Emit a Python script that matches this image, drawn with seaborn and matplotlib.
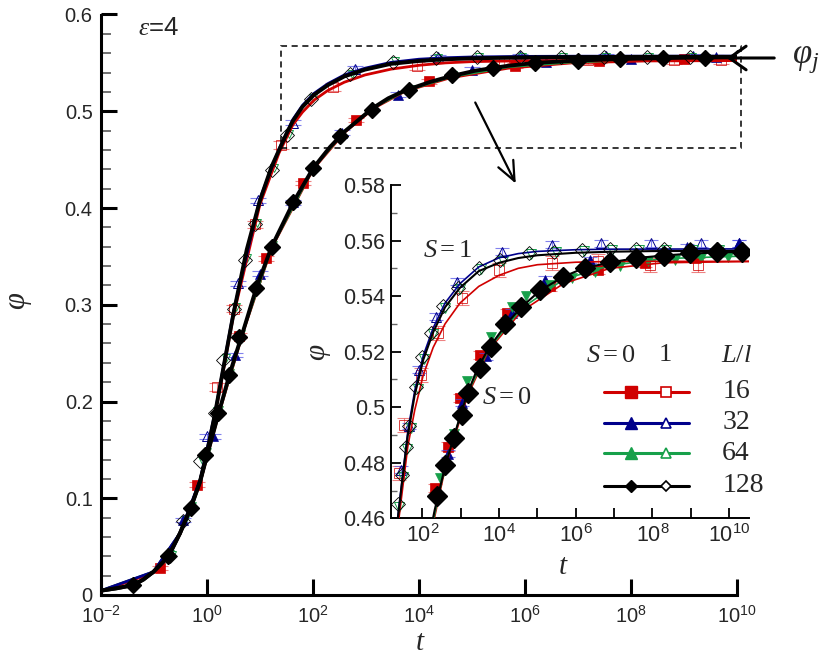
import numpy as np
import matplotlib
matplotlib.use("Agg")
import matplotlib.pyplot as plt
import matplotlib.ticker as mticker
from matplotlib.patches import Rectangle, FancyArrowPatch
import seaborn as sns

# ---------------- data (log10 t, phi) ----------------
# fitted curves
line0_logt = [-2.0, -1.7, -1.39, -1.2, -1.01, -0.73, -0.51, -0.31, -0.13, 0.0, 0.2, 0.43, 0.7, 0.94, 1.22,
              1.63, 2.0, 2.32, 2.6, 2.81, 2.98, 3.16, 3.42, 3.73, 4.21, 4.58, 5.07, 5.68, 6.2, 6.89, 7.58,
              8.29, 8.99, 9.68, 10.6]
line0_phi = [0.0045, 0.007, 0.0103, 0.016, 0.024, 0.0396, 0.0638, 0.0896, 0.117, 0.144, 0.184, 0.229, 0.276,
             0.319, 0.360, 0.406, 0.441, 0.463, 0.4792, 0.4888, 0.4966, 0.5044, 0.5134, 0.5213, 0.5303, 0.536,
             0.542, 0.547, 0.5500, 0.5521, 0.5537, 0.5546, 0.5553, 0.5557, 0.556]
line1_logt = [-2.0, -1.7, -1.39, -1.2, -1.01, -0.73, -0.51, -0.31, -0.13, 0.0, 0.15, 0.3, 0.5, 0.75, 1.0, 1.22,
              1.36, 1.49, 1.62, 1.80, 2.02, 2.28, 2.59, 2.98, 3.47, 4.0, 4.5, 5.0, 6.0, 7.0, 8.0, 10.6]
line1_phi = [0.0045, 0.007, 0.0103, 0.016, 0.024, 0.0396, 0.0638, 0.0896, 0.118, 0.147, 0.187, 0.232, 0.291,
             0.357, 0.408, 0.443, 0.460, 0.4756, 0.490, 0.5045, 0.517, 0.527, 0.536, 0.543, 0.549, 0.552,
             0.5537, 0.5547, 0.5556, 0.556, 0.5562, 0.5563]
red1_line_logt = [-2.0, -1.01, -0.51, -0.13, 0.15, 0.5, 1.0, 1.36, 1.62, 1.80, 2.02, 2.28, 2.59, 2.98, 3.47,
                  4.0, 4.5, 5.0, 6.0, 7.0, 10.6]
red1_line_phi = [0.004, 0.023, 0.063, 0.117, 0.185, 0.289, 0.404, 0.457, 0.486, 0.499, 0.5115, 0.5215, 0.5300,
                 0.5375, 0.5435, 0.5475, 0.5500, 0.5513, 0.5522, 0.5525, 0.5525]
blue1_line_logt = [-2.0, -1.01, -0.51, -0.13, 0.15, 0.5, 1.0, 1.36, 1.62, 1.80, 2.02, 2.28, 2.59, 2.98, 3.47,
                   4.0, 4.5, 5.0, 6.0, 7.0, 10.6]
blue1_line_phi = [0.0045, 0.024, 0.064, 0.119, 0.188, 0.293, 0.410, 0.461, 0.4915, 0.506, 0.5185, 0.5285,
                  0.5375, 0.5445, 0.5505, 0.5538, 0.5553, 0.5561, 0.5567, 0.5569, 0.557]
red0_line_logt = [-2.0, -1.01, -0.51, -0.13, 0.2, 0.7, 1.22, 2.0, 2.6, 3.16, 3.73, 4.58, 5.68, 6.89, 8.29, 10.6]
red0_line_phi = [0.0042, 0.0235, 0.0632, 0.116, 0.183, 0.275, 0.359, 0.440, 0.4785, 0.5036, 0.5205, 0.5345,
                 0.5445, 0.5500, 0.5520, 0.5525]
green0_line_logt = [-2.0, -1.01, -0.51, -0.13, 0.2, 0.7, 1.22, 2.0, 2.6, 3.16, 3.73, 4.58, 5.68, 6.89, 8.29, 10.6]
green0_line_phi = [0.0044, 0.0238, 0.0636, 0.117, 0.184, 0.276, 0.360, 0.441, 0.4795, 0.5045, 0.5210, 0.5355,
                   0.5460, 0.5510, 0.5535, 0.5545]

# main panel, S=0 (filled)
m0_128_logt = [-1.39, -0.73, -0.31, -0.04, 0.21, 0.42, 0.61, 0.92, 1.22, 1.63, 2.00, 2.50, 3.12, 3.82, 4.62,
               5.40, 6.19, 7.00, 7.79, 8.60, 9.40]
m0_128_phi = [0.010, 0.040, 0.090, 0.145, 0.188, 0.227, 0.267, 0.317, 0.360, 0.406, 0.441, 0.474, 0.501, 0.522,
              0.537, 0.545, 0.550, 0.552, 0.554, 0.555, 0.5555]
m0_64_logt = [-1.32, -0.68, -0.27, 0.02, 0.25, 0.46, 0.66, 0.96, 1.26, 1.67, 2.04, 2.54, 3.16, 3.86, 4.66,
              5.44, 6.23, 7.04, 7.83, 8.64, 9.44]
m0_64_phi = [0.012, 0.043, 0.093, 0.149, 0.192, 0.231, 0.271, 0.321, 0.363, 0.409, 0.443, 0.476, 0.503, 0.524,
             0.538, 0.546, 0.551, 0.553, 0.5545, 0.5552, 0.5556]
m0_16_logt = [-0.89, -0.195, 0.61, 1.11, 1.82, 2.81, 4.19, 5.81, 7.40, 9.00]
m0_16_phi = [0.028, 0.114, 0.268, 0.348, 0.426, 0.491, 0.531, 0.547, 0.552, 0.554]
m0_32_logt = [-0.45, 0.12, 0.52, 1.00, 1.63, 2.55, 3.60, 5.00, 6.40, 8.00, 9.60]
m0_32_phi = [0.0775, 0.164, 0.248, 0.332, 0.406, 0.478, 0.517, 0.543, 0.551, 0.554, 0.5556]

# main panel, S=1 (open)
m1_128_logt = [-0.70, -0.46, -0.13, 0.15, 0.31, 0.50, 0.72, 0.91, 1.22, 1.51, 1.96, 2.70, 3.51, 4.32, 5.09,
               5.91, 6.68, 7.49, 8.30, 9.11, 10.0]
m1_128_phi = [0.040, 0.077, 0.138, 0.188, 0.243, 0.296, 0.346, 0.383, 0.439, 0.475, 0.513, 0.538, 0.551, 0.555,
              0.5556, 0.556, 0.556, 0.556, 0.556, 0.556, 0.556]
m1_64_logt = [-0.66, -0.42, -0.09, 0.19, 0.35, 0.54, 0.76, 0.95, 1.26, 1.55, 2.00, 2.74, 3.55, 4.36, 5.13,
              5.95, 6.72, 7.53, 8.34, 9.15]
m1_64_phi = [0.041, 0.078, 0.140, 0.190, 0.245, 0.298, 0.348, 0.385, 0.441, 0.476, 0.514, 0.539, 0.5515, 0.5552,
             0.5557, 0.556, 0.556, 0.556, 0.556, 0.556]
m1_16_logt = [0.18, 0.50, 0.906, 1.40, 2.38, 3.96, 5.60, 7.19, 8.81, 9.70]
m1_16_phi = [0.215, 0.296, 0.383, 0.465, 0.525, 0.547, 0.551, 0.5525, 0.5525, 0.5525]
m1_32_logt = [0.00, 0.59, 0.96, 1.63, 2.79, 4.36, 5.90, 7.53, 9.17]
m1_32_phi = [0.164, 0.322, 0.408, 0.488, 0.544, 0.556, 0.557, 0.557, 0.557]

# inset, S=0 (filled)
i0_128_logt = [2.39, 2.60, 2.82, 3.02, 3.19, 3.51, 3.80, 4.16, 4.58, 5.07, 5.68, 6.25, 6.89, 7.58, 8.29, 8.99,
               9.68, 10.35]
i0_128_phi = [0.4679, 0.4793, 0.4889, 0.4973, 0.5051, 0.5141, 0.5218, 0.5300, 0.5362, 0.5422, 0.5468, 0.5500,
              0.5521, 0.5537, 0.5546, 0.5555, 0.5557, 0.5560]
i0_16_logt = [2.32, 2.67, 2.98, 3.50, 4.21, 5.33, 6.59, 7.80, 9.10]
i0_16_phi = [0.4708, 0.4858, 0.5032, 0.5189, 0.5339, 0.5435, 0.5495, 0.5519, 0.5537]
i0_32_logt = [2.67, 3.04, 3.67, 4.34, 5.20, 6.37, 8.90, 10.27]
i0_32_phi = [0.4833, 0.5016, 0.5183, 0.5340, 0.5459, 0.5530, 0.5575, 0.5590]
i0_64_logt = [2.45, 2.82, 3.17, 3.78, 4.34, 4.71, 5.32, 5.90, 6.50, 7.15, 7.89, 8.58, 9.27, 9.96]
i0_64_phi = [0.4745, 0.4905, 0.5093, 0.5254, 0.5362, 0.5400, 0.5440, 0.5465, 0.5485, 0.5507, 0.5525, 0.5531,
             0.5537, 0.5540]

# inset, S=1 (open)
i1_128_logt = [1.36, 1.48, 1.57, 1.66, 1.84, 1.99, 2.22, 2.53, 2.92, 3.47, 4.03, 4.77, 5.42, 6.16, 6.89, 7.58,
               8.29, 8.99, 9.68, 10.35]
i1_128_phi = [0.4652, 0.4757, 0.4855, 0.4933, 0.5074, 0.5182, 0.5267, 0.5363, 0.5429, 0.5501, 0.5531, 0.5555,
              0.5560, 0.5567, 0.5570, 0.5570, 0.5570, 0.5570, 0.5570, 0.5570]
i1_16_logt = [1.39, 1.53, 1.97, 2.41, 3.02, 3.99, 5.37, 6.59, 7.93, 9.19]
i1_16_phi = [0.4763, 0.4936, 0.5117, 0.5267, 0.5393, 0.5495, 0.5519, 0.5525, 0.5513, 0.5513]
i1_32_logt = [1.44, 1.66, 1.91, 2.35, 2.91, 4.08, 5.37, 6.67, 7.97, 9.27, 10.25]
i1_32_phi = [0.4775, 0.4932, 0.5135, 0.5326, 0.5452, 0.5560, 0.5585, 0.5590, 0.5590, 0.5590, 0.5590]
i1_64_logt = [1.38, 1.50, 1.60, 1.70, 1.88, 2.03, 2.27, 2.58, 2.97, 3.52, 4.10, 4.83, 5.48, 6.22, 6.95, 7.65,
              8.35, 9.05, 9.75]
i1_64_phi = [0.4640, 0.4750, 0.4850, 0.4925, 0.5065, 0.5175, 0.5262, 0.5356, 0.5425, 0.5497, 0.5528, 0.5552,
             0.5558, 0.5563, 0.5566, 0.5566, 0.5566, 0.5566, 0.5566]

# error-bar half widths
err_16 = 0.0025
err_32 = 0.0012
err_16_main = 0.004
err_32_main = 0.0025

legend_sizes = ["16", "32", "64", "128"]
main_xticks_exp = [-2, 0, 2, 4, 6, 8, 10]
inset_xticks_exp = [2, 4, 6, 8, 10]

# ---------------- style ----------------
sns.set_theme(style="ticks")
plt.rcParams["font.family"] = ["Liberation Sans", "DejaVu Sans"]
plt.rcParams["mathtext.fontset"] = "custom"
plt.rcParams["mathtext.rm"] = "Liberation Serif"
plt.rcParams["mathtext.it"] = "Liberation Serif:italic"
plt.rcParams["mathtext.sf"] = "Liberation Sans"
plt.rcParams["mathtext.default"] = "regular"

RED = "#d00000"
BLUE = "#00008b"
GREEN = "#17a04a"
RED_E = (0.9, 0.3, 0.3, 0.7)
BLUE_E = (0.3, 0.3, 0.9, 0.7)

W, H = 831, 659
fig = plt.figure(figsize=(W / 100, H / 100), dpi=100)
fig.patch.set_facecolor("white")


def fx(px):
    return px / W


def fy(py):
    return 1 - py / H


def T(a):
    return 10 ** np.asarray(a, dtype=float)


ax = fig.add_axes([fx(101), fy(595), 636 / W, 580.5 / H])
ins = fig.add_axes([fx(391), fy(518.3), 358 / W, 333.3 / H])
ins.set_zorder(ax.get_zorder() + 1)


def draw_all(a, main):
    a.set_xscale("log")
    lwb = 2.8 if main else 1.5
    lwc = 2.0 if main else 1.2
    # colored fit lines
    sns.lineplot(x=T(red0_line_logt), y=red0_line_phi, ax=a, color=RED, lw=lwc, sort=False, estimator=None, zorder=3)
    sns.lineplot(x=T(green0_line_logt), y=green0_line_phi, ax=a, color=GREEN, lw=lwc, sort=False, estimator=None, zorder=3)
    sns.lineplot(x=T(red1_line_logt), y=red1_line_phi, ax=a, color=RED, lw=lwc, sort=False, estimator=None, zorder=3)
    sns.lineplot(x=T(blue1_line_logt), y=blue1_line_phi, ax=a, color=BLUE, lw=lwc, sort=False, estimator=None, zorder=3)
    if main:
        d0 = (m0_128_logt, m0_128_phi, m0_64_logt, m0_64_phi, m0_16_logt, m0_16_phi, m0_32_logt, m0_32_phi)
        d1 = (m1_128_logt, m1_128_phi, m1_64_logt, m1_64_phi, m1_16_logt, m1_16_phi, m1_32_logt, m1_32_phi)
        msD, msd, mss, mst, msg = 7.8, 7.2, 7.8, 7.5, 4.5
        e16, e32, cap = err_16_main, err_32_main, 6
    else:
        d0 = (i0_128_logt, i0_128_phi, i0_64_logt, i0_64_phi, i0_16_logt, i0_16_phi, i0_32_logt, i0_32_phi)
        d1 = (i1_128_logt, i1_128_phi, i1_64_logt, i1_64_phi, i1_16_logt, i1_16_phi, i1_32_logt, i1_32_phi)
        msD, msd, mss, mst, msg = 10.0, 7.5, 7.5, 7.5, 7.0
        e16, e32, cap = err_16, err_32, 5
    # --- S=1 open markers
    a.errorbar(T(d1[4]), d1[5], yerr=e16, fmt="none", ecolor=RED_E, capsize=cap, elinewidth=0.8, capthick=0.8, zorder=2)
    a.plot(T(d1[4]), d1[5], ls="none", marker="s", ms=mss, mfc="none", mec=RED, mew=0.7, alpha=0.75, zorder=2)
    a.errorbar(T(d1[6]), d1[7], yerr=e32, fmt="none", ecolor=BLUE_E, capsize=cap, elinewidth=0.8, capthick=0.8, zorder=2)
    a.plot(T(d1[6]), d1[7], ls="none", marker="^", ms=mst, mfc="none", mec=BLUE, mew=0.7, zorder=2)
    a.plot(T(d1[2]), d1[3], ls="none", marker="v", ms=msd - 1, mfc="none", mec=GREEN, mew=0.7, zorder=2)
    a.plot(T(d1[0]), d1[1], ls="none", marker="D", ms=msd, mfc="none", mec="black", mew=0.6, zorder=3)
    # --- S=0 filled markers
    a.errorbar(T(d0[4]), d0[5], yerr=e16 * 0.6, fmt="none", ecolor=RED_E, capsize=cap, elinewidth=0.8, capthick=0.8, zorder=2)
    a.plot(T(d0[4]), d0[5], ls="none", marker="s", ms=mss, mfc=RED, mec=RED, mew=0.5, zorder=2)
    a.errorbar(T(d0[6]), d0[7], yerr=e32, fmt="none", ecolor=BLUE_E, capsize=cap, elinewidth=0.8, capthick=0.8, zorder=2)
    a.plot(T(d0[6]), d0[7], ls="none", marker="^", ms=mst, mfc=BLUE, mec=BLUE, mew=0.5, zorder=2)
    a.plot(T(d0[2]), d0[3], ls="none", marker="v", ms=msg, mfc=GREEN, mec=GREEN, mew=0.5, zorder=2)
    # black fits
    sns.lineplot(x=T(line1_logt), y=line1_phi, ax=a, color="black", lw=lwb, sort=False, estimator=None, zorder=4)
    sns.lineplot(x=T(line0_logt), y=line0_phi, ax=a, color="black", lw=lwb, sort=False, estimator=None, zorder=4)
    a.plot(T(d0[0]), d0[1], ls="none", marker="D", ms=msD, mfc="black", mec="black", zorder=5)


draw_all(ax, True)
draw_all(ins, False)

# ---------------- main axes formatting ----------------
ax.set_xlim(1e-2, 1e10)
ax.set_ylim(0, 0.6)
for sp in ["top", "right"]:
    ax.spines[sp].set_visible(False)
for sp in ["left", "bottom"]:
    ax.spines[sp].set_linewidth(2.2)
    ax.spines[sp].set_color("black")
ax.xaxis.set_major_locator(mticker.FixedLocator([10.0 ** e for e in main_xticks_exp]))
ax.xaxis.set_minor_locator(mticker.NullLocator())
ax.xaxis.set_major_formatter(mticker.FuncFormatter(lambda v, p: r"$\mathdefault{10^{%d}}$" % round(np.log10(v))))
ax.yaxis.set_major_locator(mticker.MultipleLocator(0.1))
ax.yaxis.set_minor_locator(mticker.MultipleLocator(0.02))
ax.yaxis.set_major_formatter(mticker.FuncFormatter(lambda v, p: "%g" % round(v, 3)))
ax.tick_params(axis="both", which="major", direction="in", length=11.5, width=2.2, labelsize=14.5, pad=6, color="black")
ax.tick_params(axis="x", which="major", pad=7)
ax.tick_params(axis="y", which="minor", direction="in", length=7, width=1.3, color="#666666")
ax.set_xlabel("t", fontfamily="Liberation Serif", fontstyle="italic", fontsize=21)
ax.xaxis.label.set_va("center")
ax.xaxis.set_label_coords(0.5016, -0.082)
ax.set_ylabel("φ", fontfamily="Liberation Serif", fontstyle="italic", fontsize=22, rotation=90)
ax.yaxis.label.set_va("center")
ax.yaxis.set_label_coords(-0.132, 0.508)
ax.grid(False)
ax.text(0.058, 0.977, r"$\mathit{ε}$=4", transform=ax.transAxes, ha="left", va="center", fontsize=18.5)

# dashed zoom box
ax.add_patch(Rectangle((10 ** 1.40, 0.4618), 10 ** 10.08 - 10 ** 1.40, 0.5674 - 0.4618, fill=False,
                       ls=(0, (4, 3)), lw=1.1, ec="black", clip_on=False, zorder=6))

# ---------------- inset formatting ----------------
ins.set_facecolor("white")
ins.set_xlim(10 ** 1.18, 10 ** 10.52)
ins.set_ylim(0.46, 0.58)
for sp in ["top", "right"]:
    ins.spines[sp].set_visible(False)
for sp in ["left", "bottom"]:
    ins.spines[sp].set_linewidth(1.4)
    ins.spines[sp].set_color("black")
ins.xaxis.set_major_locator(mticker.FixedLocator([10.0 ** e for e in inset_xticks_exp]))
ins.xaxis.set_minor_locator(mticker.FixedLocator([10.0 ** e for e in range(2, 11)]))
ins.xaxis.set_minor_formatter(mticker.NullFormatter())
ins.xaxis.set_major_formatter(mticker.FuncFormatter(lambda v, p: r"$\mathdefault{10^{%d}}$" % round(np.log10(v))))
ins.yaxis.set_major_locator(mticker.MultipleLocator(0.02))
ins.yaxis.set_minor_locator(mticker.MultipleLocator(0.01))
ins.yaxis.set_major_formatter(mticker.FuncFormatter(lambda v, p: "%g" % round(v, 3)))
ins.tick_params(axis="both", which="major", direction="in", length=7, width=1.3, labelsize=15.5, pad=4, color="black")
ins.tick_params(axis="x", which="minor", direction="in", length=7, width=1.3, color="black")
ins.tick_params(axis="y", which="minor", direction="in", length=4, width=1.0, color="#666666")
ins.set_xlabel("t", fontfamily="Liberation Serif", fontstyle="italic", fontsize=21)
ins.xaxis.label.set_va("center")
ins.xaxis.set_label_coords(0.480, -0.146)
ins.set_ylabel("φ", fontfamily="Liberation Serif", fontstyle="italic", fontsize=21, rotation=90)
ins.yaxis.label.set_va("center")
ins.yaxis.set_label_coords(-0.207, 0.499)
ins.grid(False)

ins.text(0.159, 0.805, r"$\mathit{S}\mathrm{=1}$", transform=ins.transAxes, ha="center", va="center", fontsize=19)
ins.text(0.324, 0.364, r"$\mathit{S}\mathrm{=0}$", transform=ins.transAxes, ha="center", va="center", fontsize=19)

# ---------------- legend (manual) ----------------
ins.text(0.614, 0.49, r"$\mathit{S}\mathrm{=0}$", transform=ins.transAxes, ha="center", va="center", fontsize=19)
ins.text(0.765, 0.49, "1", fontfamily="Liberation Serif", transform=ins.transAxes, ha="center", va="center", fontsize=19)
ins.text(0.966, 0.49, r"$\mathit{L/l}$", transform=ins.transAxes, ha="center", va="center", fontsize=19)
leg_rows = [0.380, 0.287, 0.195, 0.097]
leg_cols = [RED, BLUE, GREEN, "black"]
leg_mk = ["s", "^", "^", "D"]
leg_ms = [8.5, 8.5, 8.5, 6.5]
for yv, c, mk, ms, lab in zip(leg_rows, leg_cols, leg_mk, leg_ms, legend_sizes):
    ins.plot([0.595, 0.832], [yv, yv], transform=ins.transAxes, color=c, lw=2.2, clip_on=False, zorder=7)
    ins.plot([0.670], [yv], transform=ins.transAxes, marker=mk, ms=ms, mfc=c, mec=c, ls="none", clip_on=False, zorder=8)
    ins.plot([0.767], [yv], transform=ins.transAxes, marker=mk, ms=ms - 1.5, mfc="white", mec=c, mew=1.2, ls="none",
             clip_on=False, zorder=8)
    ins.text(0.925, yv, lab, fontfamily="Liberation Serif", transform=ins.transAxes, ha="left", va="center",
             fontsize=20)

# ---------------- arrows and phi_j ----------------
arr = FancyArrowPatch((fx(474), fy(100)), (fx(517), fy(186)), transform=fig.transFigure,
                      arrowstyle="->,head_length=14,head_width=6", mutation_scale=1, lw=1.6, color="black", zorder=10)
fig.add_artist(arr)
arr2 = FancyArrowPatch((fx(777), fy(58)), (fx(724), fy(58)), transform=fig.transFigure,
                       arrowstyle="->,head_length=12,head_width=8.5", mutation_scale=1, lw=2.2, color="black", zorder=10)
fig.add_artist(arr2)
fig.text(fx(792), fy(60), r"$\mathit{φ}_{\mathit{j}}$", ha="left", va="center", fontsize=25)

fig.savefig("out.png", dpi=100, facecolor="white")
